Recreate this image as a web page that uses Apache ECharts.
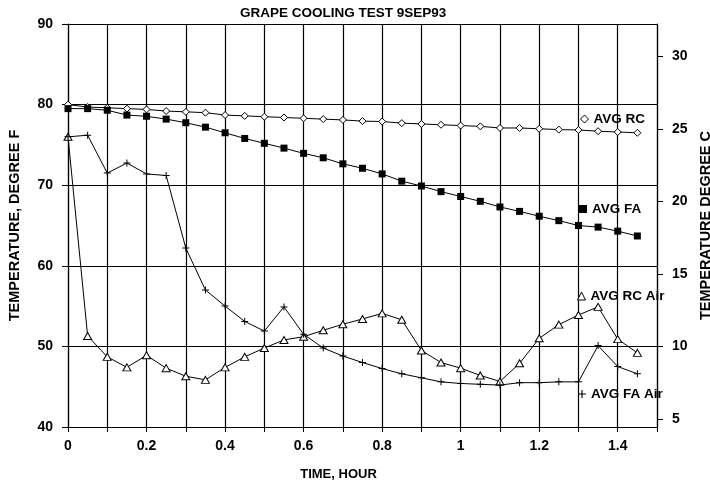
<!DOCTYPE html>
<html>
<head>
<meta charset="utf-8">
<script src="https://cdn.jsdelivr.net/npm/echarts@6/dist/echarts.min.js"></script>
<style>
  html, body { margin: 0; background: #fff; }
  #main { width: 710px; height: 485px; }
</style>
</head>
<body>
<div id="main"></div>
<script>
// time in hours, one reading every 3 minutes
var hours = [0, 0.05, 0.1, 0.15, 0.2, 0.25, 0.3, 0.35, 0.4, 0.45, 0.5, 0.55, 0.6, 0.65, 0.7,
  0.75, 0.8, 0.85, 0.9, 0.95, 1.0, 1.05, 1.1, 1.15, 1.2, 1.25, 1.3, 1.35, 1.4, 1.45]

// temperatures, degree F
var avgRC = [80.0, 79.7, 79.6, 79.5, 79.4, 79.2, 79.1, 79.0, 78.7, 78.6, 78.5, 78.4, 78.3, 78.2, 78.1,
  77.95, 77.9, 77.7, 77.6, 77.5, 77.4, 77.3, 77.1, 77.1, 77.0, 76.9, 76.85, 76.7, 76.6, 76.5]
var avgFA = [79.5, 79.5, 79.3, 78.7, 78.55, 78.2, 77.75, 77.2, 76.5, 75.8, 75.2, 74.6, 73.95, 73.4, 72.65,
  72.1, 71.4, 70.5, 69.9, 69.2, 68.6, 68.0, 67.3, 66.75, 66.15, 65.6, 65.0, 64.8, 64.3, 63.7]
var avgRCAir = [76.0, 51.3, 48.7, 47.4, 48.9, 47.3, 46.3, 45.85, 47.4, 48.7, 49.8, 50.8, 51.2, 52.0, 52.75,
  53.4, 54.1, 53.3, 49.5, 48.0, 47.3, 46.4, 45.65, 47.9, 51.0, 52.7, 53.9, 54.9, 50.9, 49.2]
var avgFAAir = [76.0, 76.2, 71.5, 72.75, 71.4, 71.2, 62.2, 57.0, 55.0, 53.1, 51.9, 54.9, 51.5, 49.8, 48.8,
  48.0, 47.25, 46.6, 46.1, 45.6, 45.4, 45.3, 45.2, 45.5, 45.5, 45.6, 45.6, 50.1, 47.5, 46.6]

// right hand scale, degree C
var cTicks = [5, 10, 15, 20, 25, 30]

var fMin = 40
var fMax = 90
function toC (f) { return (f - 32) / 1.8 }

var font = "'Liberation Sans', Arial, Helvetica, sans-serif"
var plus = 'path://M3,0h1v7h-1zM0,3h7v1h-7z'
var hollow = { color: '#fff', borderColor: '#000', borderWidth: 1 }
var solid = { color: '#000', borderColor: '#000', borderWidth: 0 }

function makeLine (name, values, symbol, size, style) {
  return {
    name: name,
    type: 'line',
    symbol: symbol,
    symbolSize: size,
    showSymbol: true,
    data: hours.map(function (h, i) { return [h, values[i]] }),
    lineStyle: { color: '#000', width: 1 },
    itemStyle: style,
    emphasis: { disabled: true }
  }
}

function legendAt (name, icon, style, left, top) {
  return {
    data: [{ name: name, icon: icon, itemStyle: style }],
    left: left,
    top: top,
    padding: 0,
    itemWidth: 8,
    itemHeight: 8,
    selectedMode: false,
    textStyle: { color: '#000', fontFamily: font, fontWeight: 'bold', fontSize: 13.5 }
  }
}

var chart = echarts.init(document.getElementById('main'))
chart.setOption({
  animation: false,
  backgroundColor: '#fff',
  title: {
    text: 'GRAPE COOLING TEST 9SEP93',
    left: 240,
    top: 6,
    padding: 0,
    textStyle: { color: '#000', fontFamily: font, fontWeight: 'bold', fontSize: 13.5 }
  },
  legend: [
    legendAt('AVG RC', 'diamond', hollow, 580, 112),
    legendAt('AVG FA', 'rect', solid, 579, 202),
    legendAt('AVG RC Air', 'triangle', hollow, 577, 289),
    legendAt('AVG FA Air', plus, solid, 578, 387)
  ],
  grid: { left: 68, right: 53, top: 24, bottom: 58, outerBoundsMode: 'none' },
  xAxis: {
    type: 'value',
    min: 0,
    max: 1.5,
    interval: 0.1,
    name: 'TIME, HOUR',
    nameLocation: 'middle',
    nameGap: 41,
    nameTextStyle: { color: '#000', fontFamily: font, fontWeight: 'bold', fontSize: 13, padding: [0, 48, 0, 0] },
    axisLine: { lineStyle: { color: '#000', width: 1.2 } },
    axisTick: { length: 5, lineStyle: { color: '#000' } },
    axisLabel: {
      margin: 12,
      color: '#000',
      fontFamily: font,
      fontWeight: 'bold',
      fontSize: 14,
      formatter: function (v) {
        var k = Math.round(v * 10)
        return (k % 2 === 0 && k < 15) ? String(k / 10) : ''
      }
    },
    splitLine: { show: true, lineStyle: { color: '#000', width: 1.2 } }
  },
  yAxis: [
    {
      type: 'value',
      min: fMin,
      max: fMax,
      interval: 10,
      name: 'TEMPERATURE, DEGREE F',
      nameLocation: 'middle',
      nameGap: 46,
      nameTextStyle: { color: '#000', fontFamily: font, fontWeight: 'bold', fontSize: 14.5 },
      axisLine: { show: true, lineStyle: { color: '#000', width: 1.2 } },
      axisTick: { show: true, length: 6, lineStyle: { color: '#000' } },
      axisLabel: { margin: 15, color: '#000', fontFamily: font, fontWeight: 'bold', fontSize: 14 },
      splitLine: { show: true, lineStyle: { color: '#000', width: 1.2 } }
    },
    {
      type: 'value',
      position: 'right',
      min: toC(fMin),
      max: toC(fMax),
      name: 'TEMPERATURE DEGREE C',
      nameLocation: 'middle',
      nameGap: 37,
      nameTextStyle: { color: '#000', fontFamily: font, fontWeight: 'bold', fontSize: 14.5 },
      axisLine: { show: true, lineStyle: { color: '#000', width: 1.2 } },
      axisTick: { show: true, inside: false, length: 6, customValues: cTicks, lineStyle: { color: '#000' } },
      axisLabel: { margin: 15, customValues: cTicks, color: '#000', fontFamily: font, fontWeight: 'bold', fontSize: 14 },
      splitLine: { show: false }
    }
  ],
  series: [
    makeLine('AVG RC', avgRC, 'diamond', [7, 7], hollow),
    makeLine('AVG FA', avgFA, 'rect', 7, solid),
    makeLine('AVG RC Air', avgRCAir, 'triangle', [8, 7], hollow),
    makeLine('AVG FA Air', avgFAAir, plus, 7, solid)
  ]
})
</script>
</body>
</html>
